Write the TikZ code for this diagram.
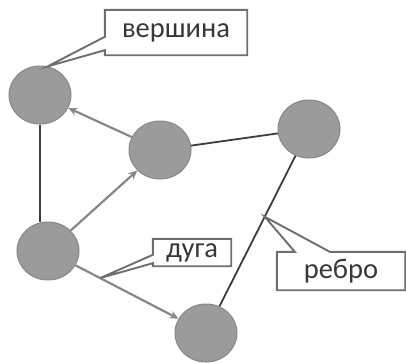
\documentclass[tikz,border=0pt]{standalone}
\usepackage{fontspec}
\setmainfont{Carlito}
\usetikzlibrary{calc,arrows.meta,shapes.geometric}
\definecolor{vfill}{RGB}{155,155,155}
\definecolor{vdraw}{RGB}{135,135,135}
\definecolor{agray}{RGB}{135,135,135}
\definecolor{edark}{RGB}{60,60,60}
\definecolor{bgray}{RGB}{110,110,110}
\definecolor{tgray}{RGB}{55,55,55}
\begin{document}
\begin{tikzpicture}[x=1pt,y=-1pt,
  vert/.style={ellipse,fill=vfill,draw=vdraw,line width=1pt,minimum width=62pt,minimum height=58pt,inner sep=0pt},
  arc/.style={draw=agray,line width=2.2pt,-{Stealth[length=9pt,width=8pt]}},
  edgeline/.style={draw=edark,line width=1.8pt},
  lbl/.style={font=\fontsize{28.5}{30}\selectfont,text=tgray,inner sep=0pt,rectangle},
  callout/.style={draw=bgray,line width=1.9pt,line join=miter}]
\useasboundingbox (0,0) rectangle (406,362);
% vertices
\node[vert] (A) at (40,95) {};
\node[vert] (B) at (160,150) {};
\node[vert] (C) at (309,129) {};
\node[vert] (D) at (48,251) {};
\node[vert] (E) at (206,333) {};
% edges
\draw[edgeline] (A.south) -- (A.south |- D.north);
\draw[edgeline] (B) -- (C);
\draw[edgeline] (C) -- (E);
% arcs
\draw[arc] (B) -- (A);
\draw[arc] (D) -- (B);
\draw[arc] (D) -- (E);
% callout: vertex
\node[lbl,minimum width=142pt,minimum height=45pt] (v) at (176,32.5) {вершина};
\coordinate (tipA) at (A.75);
\draw[callout] (v.north west) -- (v.north east) -- (v.south east) -- (v.south west)
  -- ($(v.south west)+(0,-5)$) -- (tipA) -- ($(v.north west)+(0,27)$) -- cycle;
% callout: arc
\node[lbl,minimum width=78pt,minimum height=27pt] (a) at (192,252.5) {дуга};
\coordinate (tipD) at ($(D)!0.33!(E)$);
\draw[callout] (a.north west) -- (a.north east) -- (a.south east) -- (a.south west)
  -- ($(a.south west)+(0,-3)$) -- (tipD) -- ($(a.north west)+(0,16)$) -- cycle;
% callout: edge
\node[lbl,minimum width=128pt,minimum height=38pt] (r) at (341,271) {ребро};
\coordinate (tipC) at ($(C)!0.43!(E)$);
\draw[callout] (r.north west) -- ($(r.north west)+(18,0)$) -- (tipC) -- ($(r.north west)+(53,0)$)
  -- (r.north east) -- (r.south east) -- (r.south west) -- cycle;
\end{tikzpicture}
\end{document}
